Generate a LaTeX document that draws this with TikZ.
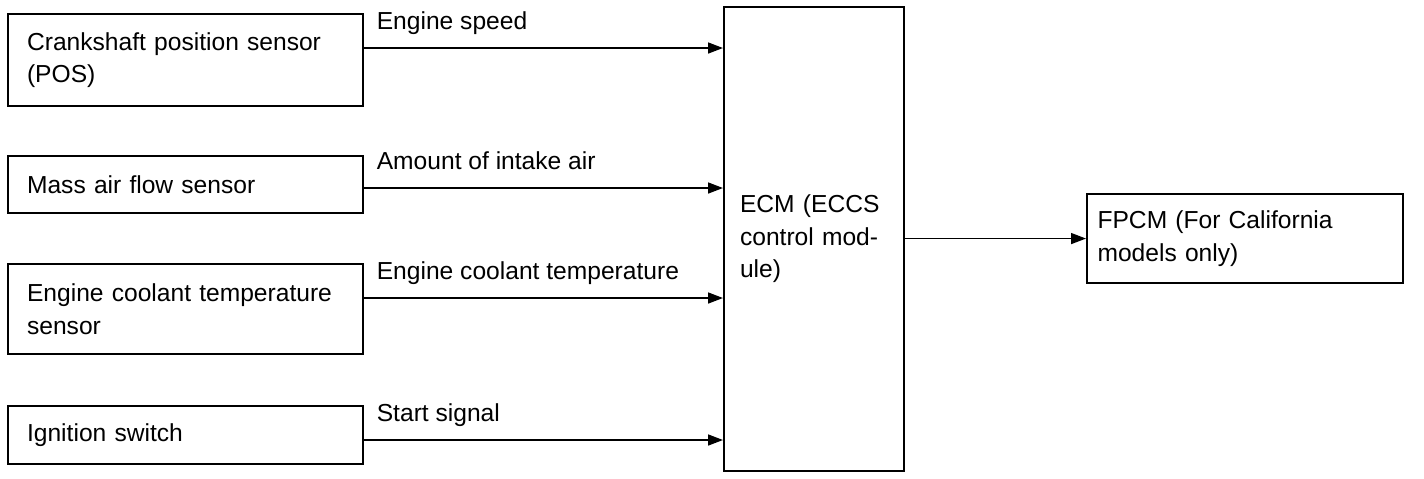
\documentclass[tikz,border=0pt]{standalone}
\usepackage{fontspec}
\setmainfont{Liberation Sans}
\usetikzlibrary{arrows.meta}

\tikzset{
  unit/.style={draw, line width=1.2pt, rectangle, align=left, anchor=north west,
    font=\fontsize{14}{18.5}\selectfont},
  sig/.style={line width=0.9pt, -{Triangle[length=0.3cm,width=0.22cm]}},
  siglabel/.style={anchor=base west, inner sep=0pt, font=\fontsize{14}{18}\selectfont}
}

\begin{document}
\begin{tikzpicture}[x=0.02cm, y=-0.02cm]
    \useasboundingbox (0,0) rectangle (1424,478);
    % control module and its output
    \node[unit, inner xsep=0.32cm, text width=2.96cm, minimum height=9.28cm] (ecm) at (723,6)
      {ECM (ECCS\\control mod-\\ule)};
    \node[unit, inner xsep=0.21cm, text width=5.9cm, minimum height=1.78cm] (fpcm) at (1086,193)
      {FPCM (For California\\models only)};
    \draw[sig] (ecm.east |- fpcm.west) -- (fpcm.west);
    % sensors and their signals
    \foreach \nm/\y/\h/\ay/\txt/\sg in {
      pos/13/92/48/{Crankshaft position sensor\\(POS)}/{Engine speed},
      maf/155/57/188/{Mass air flow sensor}/{Amount of intake air},
      ect/263/90/298/{Engine coolant temperature\\sensor}/{Engine coolant temperature},
      ign/405/58/440/{Ignition switch}/{Start signal}}
    {
      \node[unit, inner xsep=0.38cm, text width=6.34cm, minimum height=\h*0.02cm] (\nm) at (7,\y) {\txt};
      \draw[sig] (\nm.east |- 0,\ay) -- (ecm.west |- 0,\ay)
        node[siglabel, pos=0, xshift=0.24cm, yshift=0.38cm] {\sg};
    }
  \end{tikzpicture}
\end{document}
